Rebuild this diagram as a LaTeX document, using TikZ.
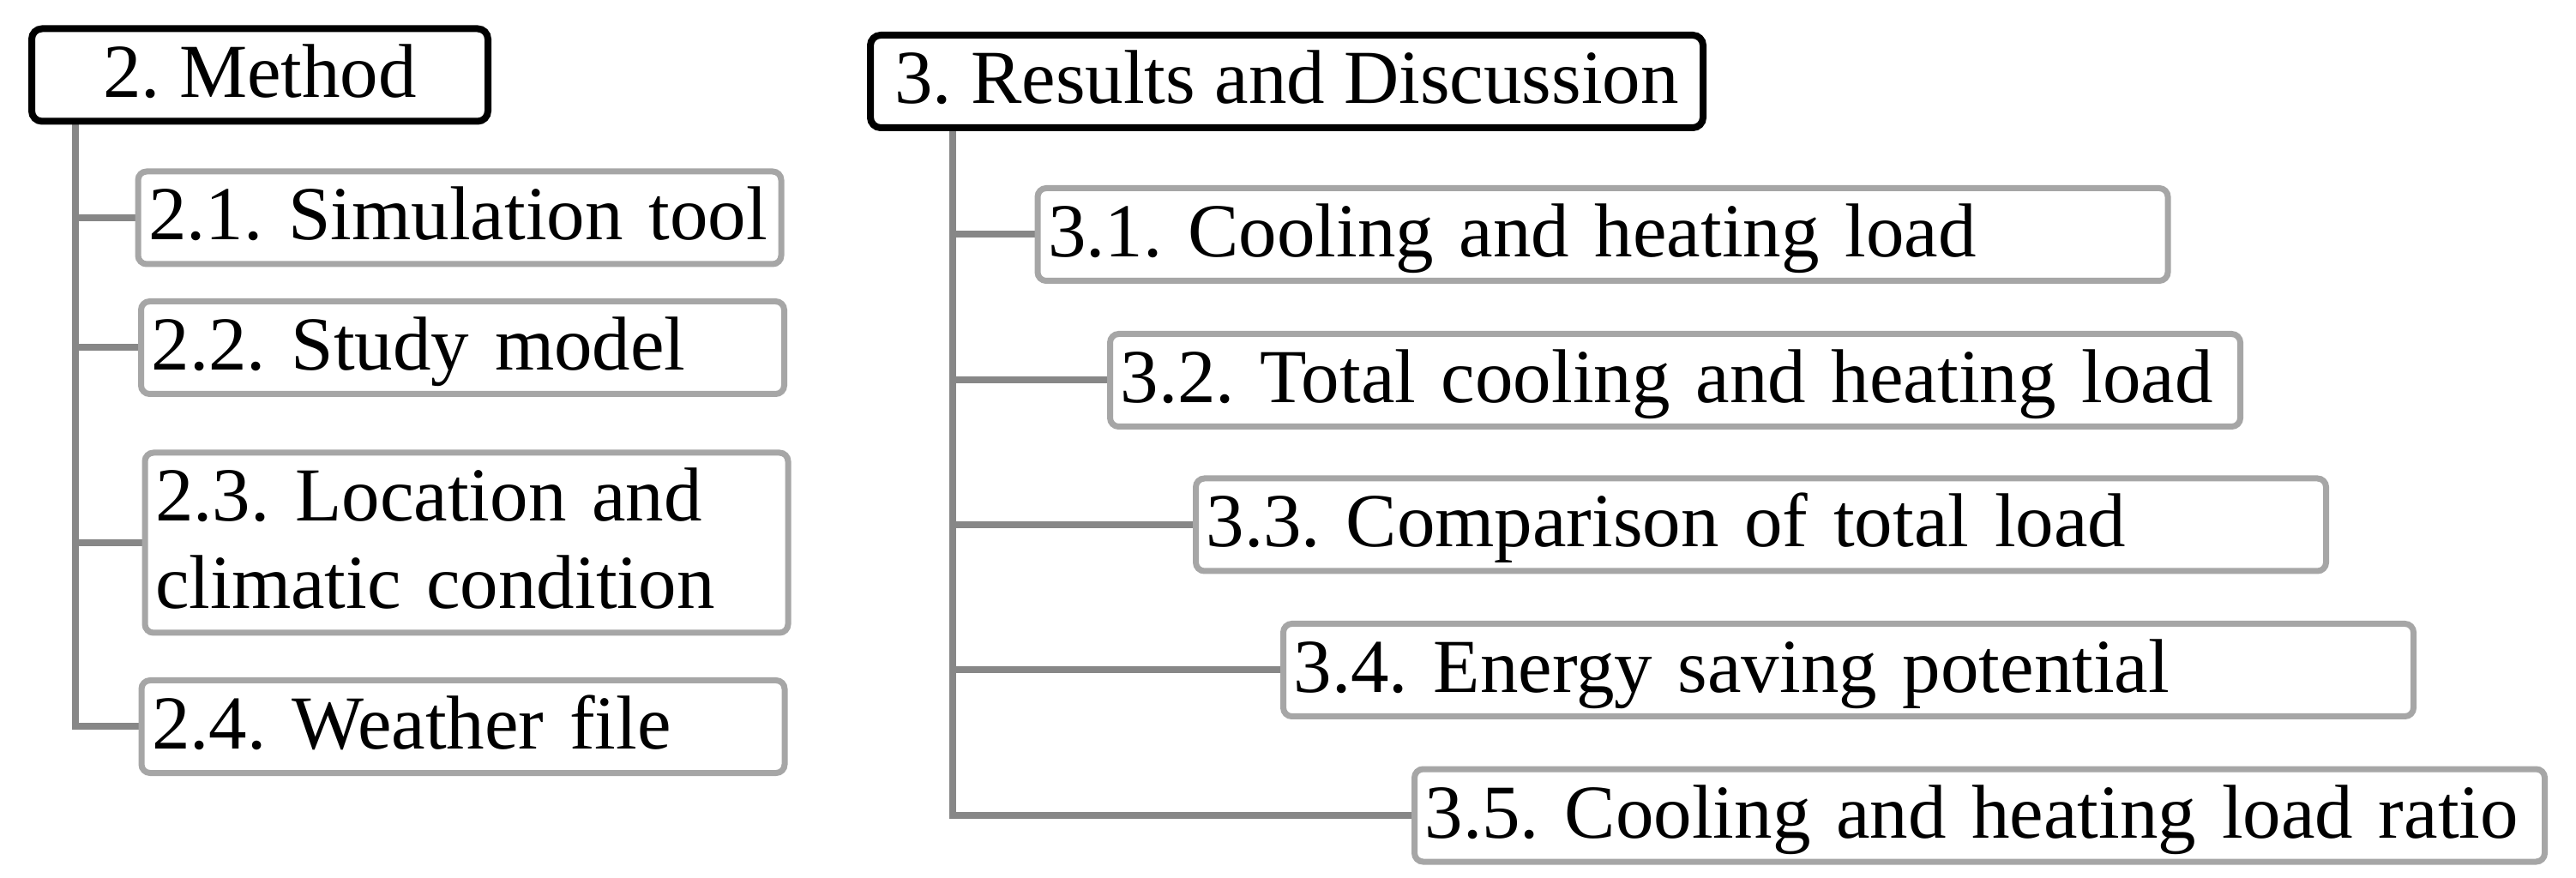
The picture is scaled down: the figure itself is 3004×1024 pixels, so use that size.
\documentclass[tikz,border=0pt]{standalone}
\usepackage{fontspec}
\setmainfont{Liberation Serif}
\usetikzlibrary{backgrounds}
\definecolor{boxgray}{HTML}{A6A6A6}
\definecolor{conngray}{HTML}{878787}
\newcommand{\tstrut}{\rule{0pt}{20pt}}
\newcommand{\bstrut}{\rule[-7pt]{0pt}{7pt}}
\frenchspacing
\begin{document}
\begin{tikzpicture}[x=0.25pt,y=-0.25pt,
  every node/.style={font=\fontsize{22.25pt}{25.5pt}\selectfont\frenchspacing, inner xsep=3pt, inner ysep=0pt},
  head/.style={draw=black, line width=2pt, rounded corners=3pt, fill=white, align=center},
  subbox/.style={draw=boxgray, line width=1.75pt, rounded corners=2.5pt, fill=white, align=left},
  lsub/.style={subbox, minimum width=187.5pt, text width=181.5pt},
  rsub/.style={subbox, minimum width=329.5pt, text width=323.5pt, minimum height=22.25pt},
  conn/.style={draw=conngray, line width=2pt}]
\useasboundingbox (0,0) rectangle (3004,1024);

% headers
\node[head, minimum width=133pt, minimum height=22.25pt] (m) at (303,87.5) {\tstrut 2. Method\bstrut};
\node[head, minimum width=242.75pt, minimum height=26.5pt] (r) at (1500.5,95) {\tstrut 3. Results and Discussion\bstrut};

% method subsections
\node[lsub, minimum height=20.5pt] (s21) at (536,254) {\tstrut 2.1. Simulation tool\bstrut};
\node[lsub, minimum height=22.25pt] (s22) at (539.5,405.5) {\tstrut 2.2. Study model\bstrut};
\node[lsub, minimum height=44.5pt] (s23) at (544,633) {\tstrut 2.3. Location and\\climatic condition\bstrut};
\node[lsub, minimum height=22.25pt] (s24) at (540,847.5) {\tstrut 2.4. Weather file\bstrut};

% results subsections
\node[rsub] (s31) at (1869,273.5) {\tstrut 3.1. Cooling and heating load\bstrut};
\node[rsub] (s32) at (1953.5,443.5) {\tstrut 3.2. Total cooling and heating load\bstrut};
\node[rsub] (s33) at (2053.5,612) {\tstrut 3.3. Comparison of total load\bstrut};
\node[rsub] (s34) at (2155.5,781.5) {\tstrut 3.4. Energy saving potential\bstrut};
\node[rsub] (s35) at (2308.5,951) {\tstrut 3.5. Cooling and heating load ratio\bstrut};

\coordinate (t2) at (88,132);
\coordinate (t3) at (1111,148);

\begin{pgfonlayer}{background}
  \fill[white] (0,0) rectangle (3004,1024);
  \draw[conn] (t2) |- (s24.west);
  \foreach \n in {s21,s22,s23} \draw[conn] (\n.west) -- (\n.west -| t2);
  \draw[conn] (t3) |- (s35.west);
  \foreach \n in {s31,s32,s33,s34} \draw[conn] (\n.west) -- (\n.west -| t3);
\end{pgfonlayer}
\end{tikzpicture}
\end{document}
